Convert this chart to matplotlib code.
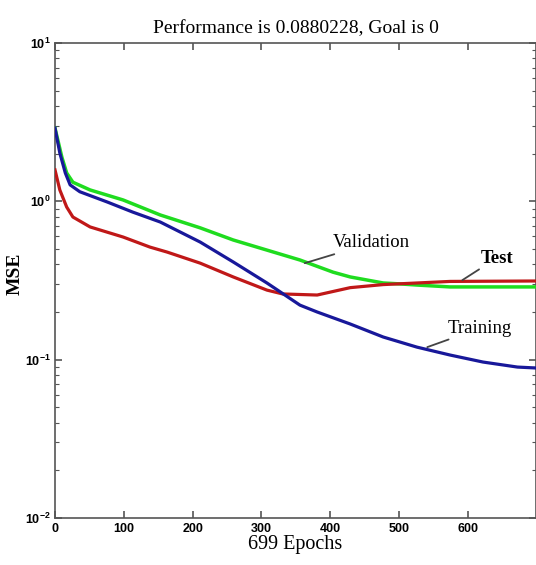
import matplotlib
matplotlib.use("Agg")
import matplotlib.pyplot as plt
from matplotlib.ticker import LogLocator, FixedLocator

# ---- data ----
train_epochs = [0, 7, 15, 22, 36, 76, 113, 153, 211, 259, 308, 356, 381, 429, 477, 526, 574, 622, 672, 699]
train_mse = [2.90, 2.02, 1.51, 1.27, 1.15, 0.99, 0.855, 0.74, 0.553, 0.414, 0.305, 0.221, 0.200, 0.168,
             0.139, 0.120, 0.107, 0.0966, 0.0898, 0.0886]

val_epochs = [0, 10, 17, 26, 51, 99, 153, 211, 259, 308, 356, 404, 429, 477, 501, 526, 574, 699]
val_mse = [2.90, 1.90, 1.51, 1.32, 1.18, 1.02, 0.82, 0.68, 0.57, 0.492, 0.426, 0.357, 0.333, 0.305,
           0.301, 0.296, 0.288, 0.288]

test_epochs = [0, 7, 17, 26, 51, 99, 138, 163, 211, 259, 308, 331, 381, 429, 477, 526, 574, 699]
test_mse = [1.58, 1.18, 0.92, 0.796, 0.689, 0.595, 0.514, 0.478, 0.407, 0.333, 0.275, 0.260, 0.256,
            0.285, 0.298, 0.305, 0.312, 0.314]

x_ticks = [0, 100, 200, 300, 400, 500, 600]
title = "Performance is 0.0880228, Goal is 0"
x_label = "699 Epochs"
y_label = "MSE"

# annotations: (text, curve point, text point)
notes = [
    ("Validation", (363, 0.407), (404, 0.546)),
    ("Test", (592, 0.318), (618, 0.438)),
    ("Training", (541, 0.120), (571, 0.158)),
]

# ---- figure ----
fig = plt.figure(figsize=(5.36, 5.65), dpi=100)
ax = fig.add_axes([55 / 536, 1 - 518 / 565, (536 - 55) / 536, (518 - 43) / 565])

green = "#1fdc1f"
red = "#c01818"
blue = "#18189a"
ax.semilogy(val_epochs, val_mse, color=green, lw=2.5, zorder=3, solid_joinstyle="round")
ax.semilogy(test_epochs, test_mse, color=red, lw=2.3, zorder=4, solid_joinstyle="round")
ax.semilogy(train_epochs, train_mse, color=blue, lw=2.3, zorder=5, solid_joinstyle="round")

ax.set_xlim(0, 699)
ax.set_ylim(1e-2, 1e1)
ax.xaxis.set_major_locator(FixedLocator(x_ticks))
ax.yaxis.set_major_locator(LogLocator(base=10, numticks=10))
ax.yaxis.set_minor_locator(LogLocator(base=10, subs=range(2, 10), numticks=20))

for s in ax.spines.values():
    s.set_color("#555555")
    s.set_linewidth(1.2)
ax.tick_params(which="both", direction="in", top=True, right=True, colors="#555555",
               labelcolor="black")
ax.tick_params(which="major", length=5, width=1.2)
ax.tick_params(which="minor", length=3, width=0.8)
for lab in ax.get_xticklabels() + ax.get_yticklabels():
    lab.set_family("Liberation Sans")
    lab.set_fontsize(9)
    lab.set_fontweight("bold")
ax.tick_params(axis="y", pad=3)

serif = "Liberation Serif"
ax.set_title(title, family=serif, fontsize=14, pad=7)
ax.set_xlabel(x_label, family=serif, fontsize=14.5, labelpad=0)
ax.set_ylabel(y_label, family=serif, fontsize=14, fontweight="bold")
ax.yaxis.set_label_coords(-0.066, 0.514)

for txt, xy, xyt in notes:
    ax.annotate(txt, xy=xy, xytext=xyt, family=serif, fontsize=13.5,
                fontweight="bold" if txt == "Test" else "normal",
                ha="left", va="center",
                arrowprops=dict(arrowstyle="-", color="#444444", lw=1.3,
                                shrinkA=0, shrinkB=0), zorder=6)

fig.savefig("out.png", dpi=100)
